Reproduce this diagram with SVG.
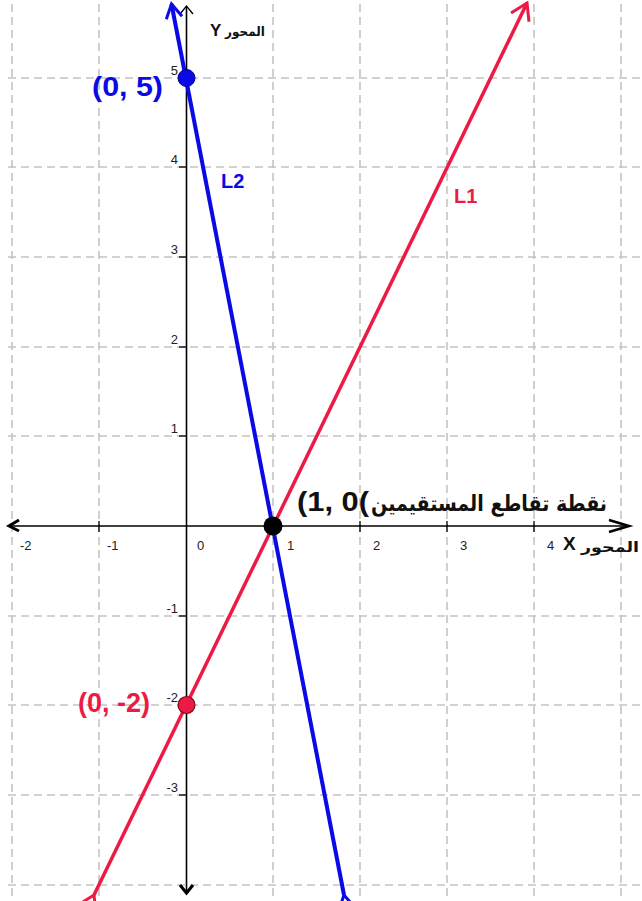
<svg xmlns="http://www.w3.org/2000/svg" width="642" height="901" viewBox="0 0 642 901">
<style>
.grid line{stroke:#c4c4c4;stroke-width:1.6;stroke-dasharray:8 5}
.axis{stroke:#000;stroke-width:1.6;fill:none}
.tick{stroke:#000;stroke-width:1.3}
.tl{font-family:"Liberation Sans",Arial,sans-serif;font-size:13px;fill:#222}
.big{font-family:"Liberation Sans",Arial,sans-serif;font-weight:bold}
.ar{font-family:"DejaVu Sans","Noto Sans",sans-serif;font-weight:bold}
</style>
<defs>
<marker id="ab" markerUnits="userSpaceOnUse" markerWidth="30" markerHeight="30" refX="0" refY="0" viewBox="-20 -15 30 30" orient="auto">
<path d="M-14,-8 L0,0 L-14,8" fill="none" stroke="#0a0ae6" stroke-width="3"/>
</marker>
<marker id="ar" markerUnits="userSpaceOnUse" markerWidth="30" markerHeight="30" refX="0" refY="0" viewBox="-20 -15 30 30" orient="auto">
<path d="M-16,-10 L0,0 L-16,10" fill="none" stroke="#ec1a44" stroke-width="3"/>
</marker>
</defs>
<rect width="642" height="901" fill="#fff"/>
<g class="grid">
<line x1="12" y1="4" x2="12" y2="897"/>
<line x1="99" y1="4" x2="99" y2="897"/>
<line x1="273" y1="4" x2="273" y2="897"/>
<line x1="360" y1="4" x2="360" y2="897"/>
<line x1="447" y1="4" x2="447" y2="897"/>
<line x1="534" y1="4" x2="534" y2="897"/>
<line x1="621" y1="4" x2="621" y2="897"/>
<line x1="8" y1="78" x2="642" y2="78"/>
<line x1="8" y1="167" x2="642" y2="167"/>
<line x1="8" y1="257" x2="642" y2="257"/>
<line x1="8" y1="347" x2="642" y2="347"/>
<line x1="8" y1="436" x2="642" y2="436"/>
<line x1="8" y1="616" x2="642" y2="616"/>
<line x1="8" y1="705" x2="642" y2="705"/>
<line x1="8" y1="795" x2="642" y2="795"/>
<line x1="8" y1="885" x2="642" y2="885"/>
</g>
<g id="axes">
<line class="axis" x1="9" y1="526" x2="629" y2="526"/>
<line class="axis" x1="186.5" y1="6" x2="186.5" y2="893"/>
<path d="M19,520 L9,526 L19,531" fill="none" stroke="#000" stroke-width="3"/>
<path d="M609,520 L629,526 L609,532" fill="none" stroke="#000" stroke-width="2.6"/>
<path d="M180,14 L186.5,6 L193,14" fill="none" stroke="#000" stroke-width="1.3"/>
<path d="M180,885 L186.5,893 L193,885" fill="none" stroke="#000" stroke-width="3"/>
<g class="tick">
<line x1="99" y1="521" x2="99" y2="532"/>
<line x1="273" y1="526" x2="273" y2="532"/>
<line x1="360" y1="521" x2="360" y2="532"/>
<line x1="447" y1="521" x2="447" y2="532"/>
<line x1="534" y1="521" x2="534" y2="532"/>
<line x1="179" y1="78" x2="186.5" y2="78"/>
<line x1="179" y1="167" x2="186.5" y2="167"/>
<line x1="179" y1="257" x2="186.5" y2="257"/>
<line x1="179" y1="347" x2="186.5" y2="347"/>
<line x1="179" y1="436" x2="186.5" y2="436"/>
<line x1="179" y1="616" x2="186.5" y2="616"/>
<line x1="179" y1="705" x2="186.5" y2="705"/>
<line x1="179" y1="795" x2="186.5" y2="795"/>
</g>
<g class="tl">
<text x="20" y="550">-2</text>
<text x="107" y="550">-1</text>
<text x="197" y="550">0</text>
<text x="287" y="550">1</text>
<text x="373" y="550">2</text>
<text x="460" y="550">3</text>
<text x="547" y="550">4</text>
<g text-anchor="end">
<text x="178" y="75">5</text>
<text x="178" y="164">4</text>
<text x="178" y="254">3</text>
<text x="178" y="344">2</text>
<text x="178" y="433">1</text>
<text x="178" y="613">-1</text>
<text x="178" y="702">-2</text>
<text x="178" y="792">-3</text>
</g>
</g>
<text class="big" x="210" y="36" font-size="17" fill="#111">Y</text>
<text class="ar" x="225" y="36" font-size="13" fill="#111" font-weight="normal" textLength="40" lengthAdjust="spacingAndGlyphs">المحور</text>
<text class="big" x="563" y="550" font-size="19" fill="#111">X</text>
<text class="ar" x="581" y="552" font-size="14" fill="#111" font-weight="normal" textLength="58" lengthAdjust="spacingAndGlyphs">المحور</text>
</g>
<g id="connectors">
<line id="L2-line" x1="344" y1="895" x2="171.5" y2="4" stroke="#0a0ae6" stroke-width="4" marker-start="url(#ab)" marker-end="url(#ab)"/>
<line id="L1-line" x1="94" y1="895" x2="527" y2="3" stroke="#ec1a44" stroke-width="3.5" marker-start="url(#ar)" marker-end="url(#ar)"/>
</g>
<g id="L2">
<text class="big" x="221" y="188" font-size="20" fill="#0a0ae6">L2</text>
</g>
<g id="L1">
<text class="big" x="454" y="203" font-size="20" fill="#ec1a44">L1</text>
</g>
<g id="point-0-5">
<circle cx="186.5" cy="78" r="8.5" fill="#0a0ae6" stroke="#00008a" stroke-width="1"/>
<text class="big" x="92" y="96" font-size="28" fill="#0a0ae6" textLength="71" lengthAdjust="spacingAndGlyphs">(0, 5)</text>
</g>
<g id="point-0-m2">
<circle cx="186.5" cy="705" r="8.5" fill="#ec1a44" stroke="#7a0a1e" stroke-width="1.2"/>
<text class="big" x="78" y="712" font-size="27" fill="#ec1a44" textLength="72" lengthAdjust="spacingAndGlyphs">(0, -2)</text>
</g>
<g id="point-1-0">
<circle cx="273" cy="526" r="9.5" fill="#000"/>
<text class="big" x="297" y="511" font-size="27" fill="#111" textLength="72" lengthAdjust="spacingAndGlyphs" direction="ltr" unicode-bidi="bidi-override">(1, 0(</text>
<text class="ar" x="607" y="511" font-size="22" fill="#111" text-anchor="end" textLength="236" lengthAdjust="spacingAndGlyphs">نقطة تقاطع المستقيمين</text>
</g>
</svg>
